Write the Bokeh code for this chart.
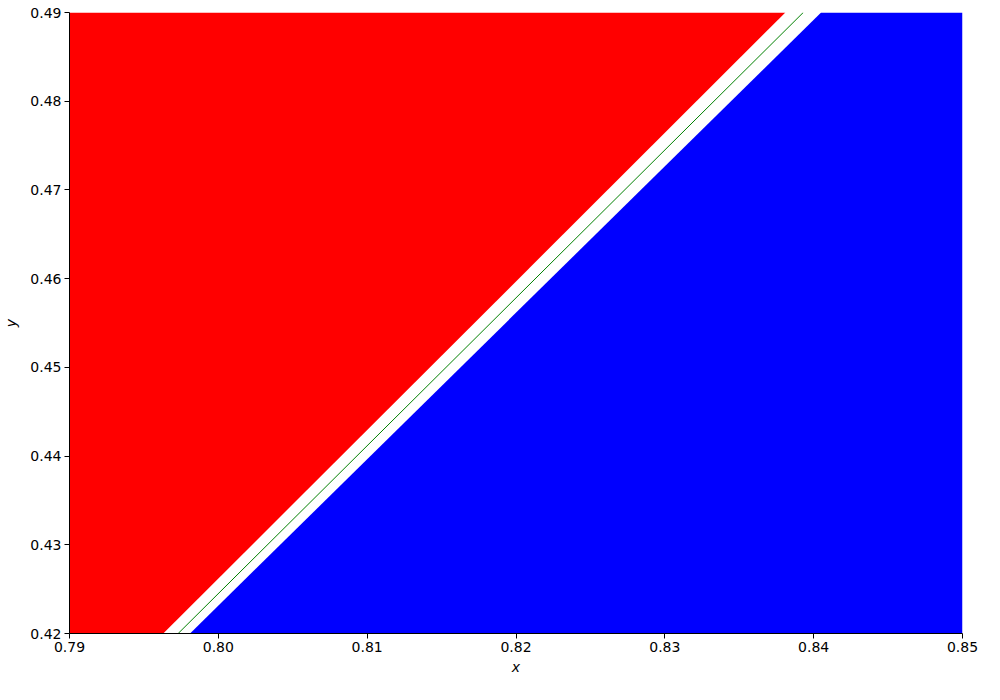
from bokeh.plotting import figure
from bokeh.models import Range1d, FixedTicker, NumeralTickFormatter
from bokeh.embed import file_html
from bokeh.resources import INLINE

# Axis limits
x_lim = [0.79, 0.85]
y_lim = [0.42, 0.49]

# Boundary crossings at the bottom (y=0.42) and top (y=0.49)
red_edge_x = [0.7963, 0.8381]     # end of red region
green_line_x = [0.7973, 0.8393]   # decision line
blue_edge_x = [0.7981, 0.8405]    # start of blue region

x_ticks = [0.79, 0.80, 0.81, 0.82, 0.83, 0.84, 0.85]
y_ticks = [0.42, 0.43, 0.44, 0.45, 0.46, 0.47, 0.48, 0.49]

p = figure(width=984, height=684, output_backend="svg", toolbar_location=None,
           x_range=Range1d(*x_lim), y_range=Range1d(*y_lim),
           frame_width=893, frame_height=621,
           min_border_left=68, min_border_top=12, min_border_right=23, min_border_bottom=51)

p.outline_line_color = None
p.background_fill_color = "white"
p.xgrid.visible = False
p.ygrid.visible = False

# Red region (top-left)
p.patch([x_lim[0], red_edge_x[0], red_edge_x[1], x_lim[0]],
        [y_lim[0], y_lim[0], y_lim[1], y_lim[1]],
        fill_color="#ff0000", line_color=None)

# Blue region (bottom-right)
p.patch([blue_edge_x[0], x_lim[1], x_lim[1], blue_edge_x[1]],
        [y_lim[0], y_lim[0], y_lim[1], y_lim[1]],
        fill_color="#0000ff", line_color=None)

# Green boundary line
p.line(green_line_x, y_lim, line_color="green", line_width=1)

for ax in (p.xaxis[0], p.yaxis[0]):
    ax.major_label_text_font = "DejaVu Sans"
    ax.major_label_text_font_size = "14px"
    ax.major_label_text_color = "black"
    ax.axis_label_text_font = "DejaVu Sans"
    ax.axis_label_text_font_size = "14px"
    ax.axis_label_text_font_style = "italic"
    ax.axis_label_text_color = "black"
    ax.axis_line_color = "black"
    ax.major_tick_line_color = "black"
    ax.major_tick_out = 5
    ax.major_tick_in = 0
    ax.major_label_standoff = 3
    ax.minor_tick_line_color = None
    ax.formatter = NumeralTickFormatter(format="0.00")

p.xaxis[0].ticker = FixedTicker(ticks=x_ticks)
p.yaxis[0].ticker = FixedTicker(ticks=y_ticks)
p.xaxis[0].axis_label = "x"
p.yaxis[0].axis_label = "y"
p.xaxis[0].axis_label_standoff = 4
p.yaxis[0].axis_label_standoff = 8

open("out.html", "w").write(file_html(p, INLINE))
